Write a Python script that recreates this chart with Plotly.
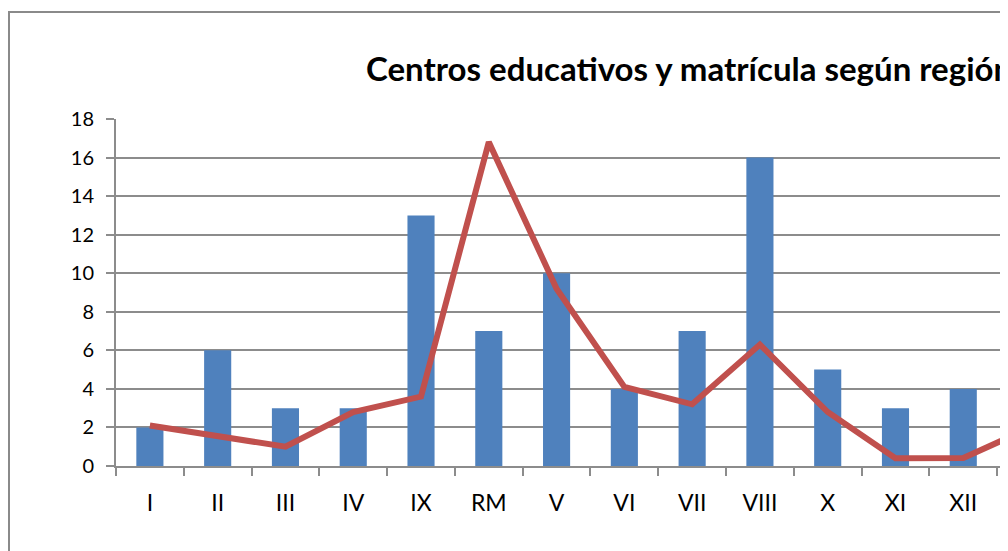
import plotly.graph_objects as go

# Data
regiones = ["I", "II", "III", "IV", "IX", "RM", "V", "VI", "VII", "VIII", "X", "XI", "XII", "XIV"]
centros = [2, 6, 3, 3, 13, 7, 10, 4, 7, 16, 5, 3, 4, None]
matricula = [2.1, 1.55, 1.0, 2.8, 3.6, 16.8, 9.2, 4.1, 3.2, 6.3, 2.8, 0.4, 0.42, 2.0]
y_ticks = [0, 2, 4, 6, 8, 10, 12, 14, 16, 18]
titulo = "Centros educativos y matrícula según región"

# page body has an 8px margin, so the figure is 8px smaller and coordinates shift by 8
OFF = 8
W, H = 1008 - OFF, 551 - OFF
L, R, T, B = 116 - OFF, 0, 119 - OFF, 551 - 466
pw, ph = W - L - R, H - T - B

def px_x(p):  # p in screen pixels of the reference
    return (p - OFF - L) / pw

def px_y(p):
    return (H - B - (p - OFF)) / ph

grid = "#8c8c8c"
font_fam = "Lato, 'Open Sans', sans-serif"

fig = go.Figure()
fig.add_trace(go.Bar(x=regiones, y=centros, width=0.4,
                     marker=dict(color="#4F81BD", line=dict(width=0)),
                     name="Centros"))
fig.add_trace(go.Scatter(x=regiones, y=matricula, mode="lines",
                         line=dict(color="#C0504D", width=6),
                         name="Matrícula"))

fig.update_layout(
    width=W, height=H,
    margin=dict(l=L, r=R, t=T, b=B, pad=0),
    paper_bgcolor="white", plot_bgcolor="white",
    showlegend=False,
    font=dict(family=font_fam, color="black"),
    xaxis=dict(
        type="category", range=[-0.5, 12.66],
        showgrid=False, zeroline=False,
        showline=True, linecolor=grid, linewidth=2,
        ticks="outside", tickson="boundaries", ticklen=8, tickwidth=2, tickcolor=grid,
        tickfont=dict(size=23, family=font_fam, color="black"),
        ticklabelstandoff=15,
    ),
    yaxis=dict(
        range=[0, 18], tickvals=y_ticks,
        showgrid=True, gridcolor=grid, gridwidth=2,
        zeroline=False,
        showline=True, linecolor=grid, linewidth=2,
        ticks="outside", ticklen=8, tickwidth=2, tickcolor=grid,
        tickfont=dict(size=20, family=font_fam, color="black"),
        ticklabelstandoff=8,
    ),
    shapes=[dict(type="rect", xref="paper", yref="paper",
                 x0=px_x(9), x1=px_x(1040), y0=px_y(600), y1=px_y(12),
                 line=dict(color="#8a8a8a", width=2), fillcolor="rgba(0,0,0,0)",
                 layer="above")],
    annotations=[dict(text="<b>" + titulo + "</b>", xref="paper", yref="paper",
                      x=px_x(364), y=px_y(68), xanchor="left", yanchor="middle",
                      showarrow=False,
                      font=dict(size=33, family=font_fam, color="black"))],
)

fig.write_html("out.html")
